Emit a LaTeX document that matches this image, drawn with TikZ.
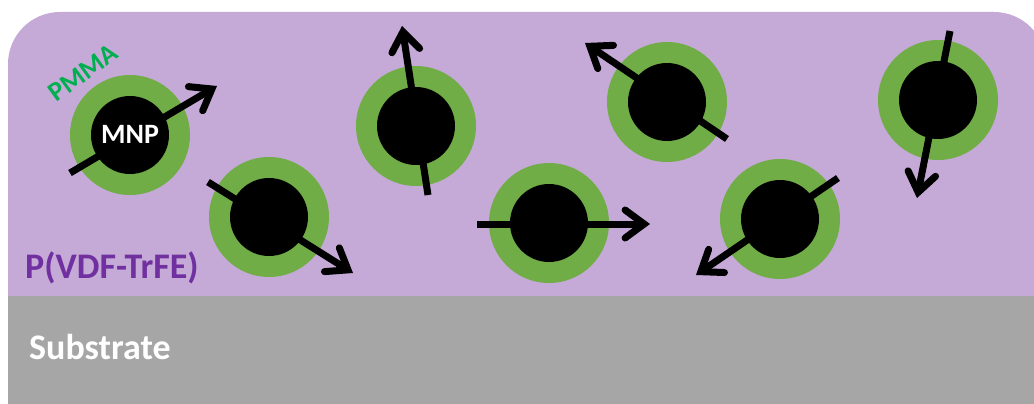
\documentclass[tikz,border=0pt]{standalone}
\usepackage{fontspec}
\setmainfont{Carlito}
\usetikzlibrary{arrows.meta}
\definecolor{film}{HTML}{C5A9D7}
\definecolor{shell}{HTML}{70AD47}
\definecolor{subgray}{HTML}{A6A6A6}
\definecolor{txtpurple}{HTML}{7030A0}
\definecolor{pmmagreen}{HTML}{00B050}
\tikzset{
  shellc/.style={circle, fill=shell, minimum size=120pt, inner sep=0pt},
  corec/.style={circle, fill=black, minimum size=78pt, inner sep=0pt},
  spin/.style={line width=7pt, -{Straight Barb[length=19pt,width=28pt,line cap=round,line join=miter]}},
}
\begin{document}
\begin{tikzpicture}[x=1pt,y=-1pt]
\useasboundingbox (0,0) rectangle (1034,404);
\fill[white] (0,0) rectangle (1034,404);
\clip (0,0) rectangle (1034,404);
\fill[film, rounded corners=52pt] (8,430) rectangle (1046,12);
\fill[subgray] (8,296) rectangle (1034,404);
% particles
\foreach \n/\x/\y in {1/130/135, 2/269/217, 3/416/126, 4/667/102, 5/549/223, 6/780/219, 7/938/100}{
  \node[shellc] (s\n) at (\x,\y) {};
  \node[corec] (c\n) at (\x,\y) {};
}
% spin arrows
\coordinate (t1) at (70,173);  \coordinate (h1) at (217,86);
\coordinate (t2) at (208,182); \coordinate (h2) at (353,273);
\coordinate (t3) at (428,195); \coordinate (h3) at (402,26);
\coordinate (t4) at (727,139); \coordinate (h4) at (585,43);
\coordinate (t5) at (477,224); \coordinate (h5) at (650,224);
\coordinate (t6) at (838,178); \coordinate (h6) at (696,275);
\coordinate (t7) at (950,31);  \coordinate (h7) at (917,198);
\foreach \n in {1,...,7}{ \draw[spin] (t\n) -- (h\n); }
\node[font=\bfseries\fontsize{28}{28}\selectfont, text=white, anchor=base, inner sep=0pt] (mnp) at (130,143) {MNP};
\node[font=\bfseries\fontsize{27}{27}\selectfont, text=pmmagreen, rotate=36, inner sep=0pt] (pmma) at (83,73) {PMMA};
\node[font=\bfseries\fontsize{36}{36}\selectfont, text=txtpurple, anchor=base west, inner sep=0pt] (pvdf) at (25,278) {P(VDF-TrFE)};
\node[font=\bfseries\fontsize{36}{36}\selectfont, text=white, anchor=base west, inner sep=0pt] (sub) at (29,359) {Substrate};
\end{tikzpicture}
\end{document}
